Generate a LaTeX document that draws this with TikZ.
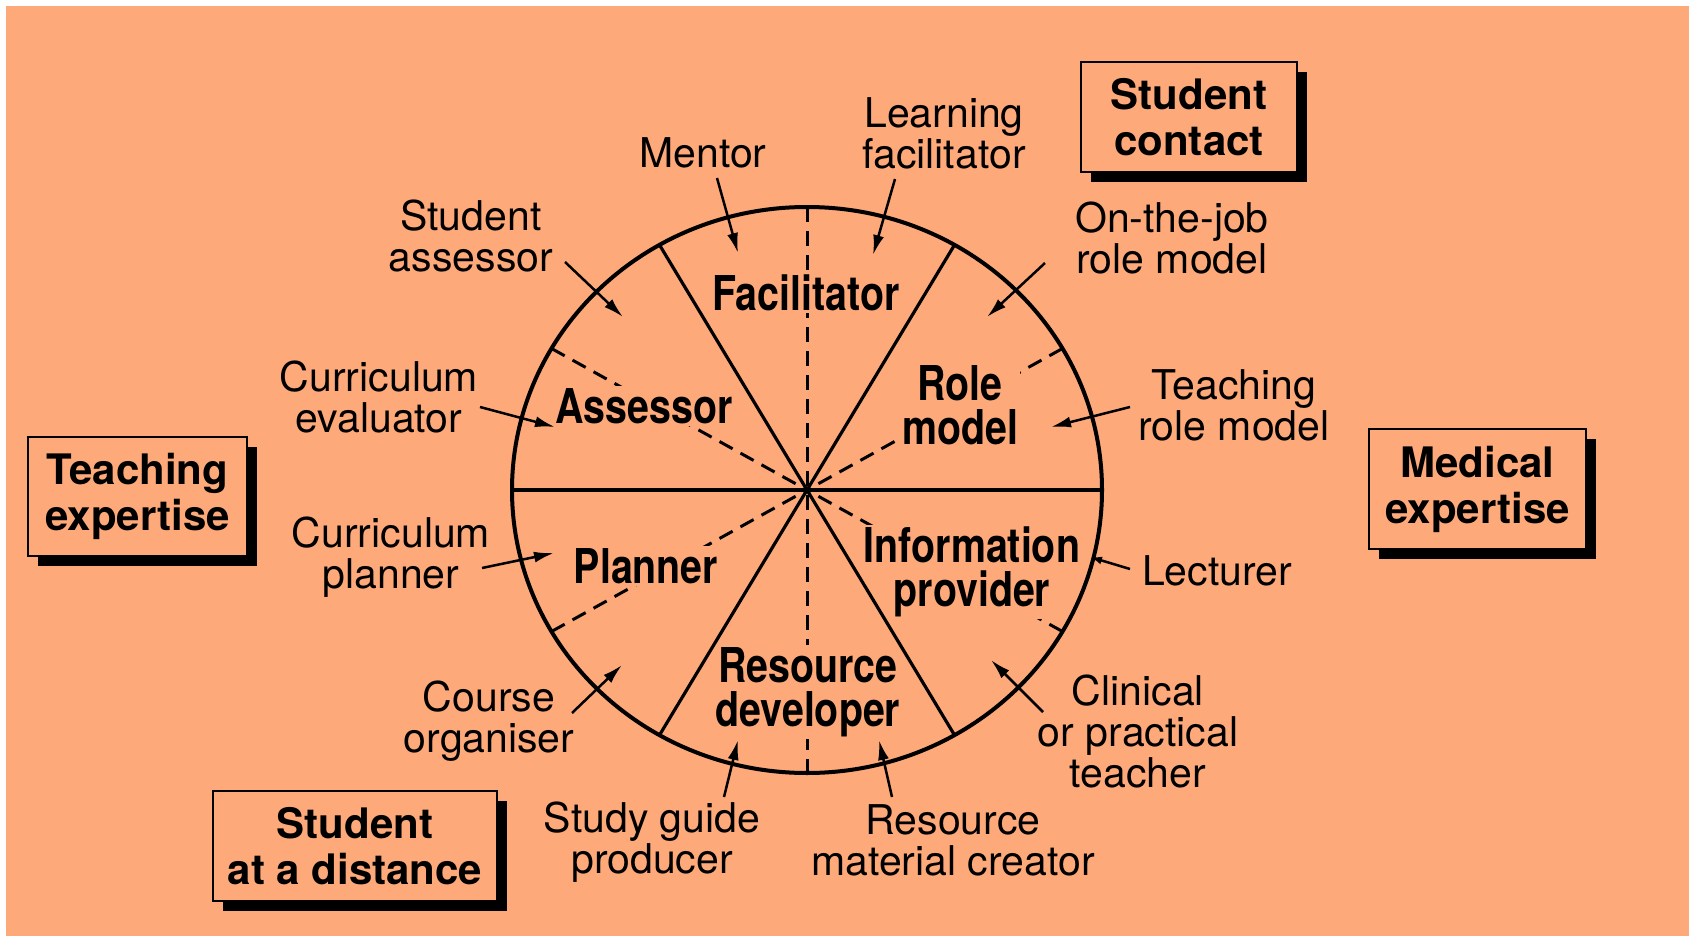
\documentclass[tikz,border=0pt]{standalone}
\usepackage{fontspec}
\setmainfont{TeX Gyre Heros}
\newfontfamily\condfont[FakeStretch=0.82]{TeX Gyre Heros}
\usetikzlibrary{arrows.meta,shadows,calc}
\definecolor{bg}{RGB}{253,169,122}
\begin{document}
\begin{tikzpicture}[x=1pt,y=-1pt,
  lbl/.style={font=\fontsize{41}{41}\selectfont, align=center, inner sep=0pt},
  role/.style={font=\condfont\bfseries\fontsize{48}{44}\selectfont, align=center, fill=bg, inner sep=2pt},
  box/.style={draw, line width=2pt, fill=bg, inner sep=0pt,
    font=\bfseries\fontsize{42}{46}\selectfont, align=center,
    drop shadow={shadow xshift=10pt,shadow yshift=-10pt,fill=black,opacity=1}},
  rimline/.style={line width=4pt},
  spoke/.style={line width=3.2pt},
  dashline/.style={line width=3pt, dash pattern=on 15pt off 9pt},
  arr/.style={line width=2.5pt, -{Latex[length=20pt,width=11pt]}}
]
\useasboundingbox (0,0) rectangle (1689,936);
\fill[white] (0,0) rectangle (1689,936);
\fill[bg] (6,6) rectangle (1689,936);

% wheel geometry
\coordinate (C) at (807,490);
\foreach \a in {0,30,60,90,120,150,180,210,240,270,300,330}
  \coordinate (r\a) at ($(C)+(\a:295pt and 283pt)$);

% dashed sub-dividers
\draw[dashline] (r90) -- (r270);
\draw[dashline] (r30) -- (C);
\draw[dashline] (r150) -- (C);
\draw[dashline] (r210) -- (C);
\draw[dashline] (r330) -- (C);

% role names
\node[role] (fac) at (806,293) {Facilitator};
\node[role] (ass) at (644,406) {Assessor};
\node[role] (rol) at (960,405) {Role\\model};
\node[role] (pla) at (646,566) {Planner};
\node[role] (inf) at (972,572) {Information\\provider};
\node[role] (res) at (808,692) {Resource\\developer};

% rim and spokes
\draw[rimline] (C) ellipse [x radius=295pt, y radius=283pt];
\draw[spoke] (r180) -- (r0);
\draw[spoke] (r120) -- (r300);
\draw[spoke] (r60) -- (r240);

% outer labels
\node[lbl] (men) at (703,153) {Mentor};
\node[lbl] (lf)  at (944,133) {Learning\\facilitator};
\node[lbl] (sa)  at (471,236) {Student\\assessor};
\node[lbl] (oj)  at (1172,238) {On-the-job\\role model};
\node[lbl] (ce)  at (379,397) {Curriculum\\evaluator};
\node[lbl] (trm) at (1234,405) {Teaching\\role model};
\node[lbl] (cp)  at (391,557) {Curriculum\\planner};
\node[lbl] (lec) at (1217,571) {Lecturer};
\node[lbl] (co)  at (489,721) {Course\\organiser};
\node[lbl] (cl)  at (1138,731) {Clinical\\or practical\\teacher};
\node[lbl] (sg)  at (652,842) {Study guide\\producer};
\node[lbl] (rm)  at (953,840) {Resource\\material creator};

% arrow ends
\coordinate (menA) at (717,178);  \coordinate (menB) at (738,253);
\coordinate (lfA)  at (895,179);  \coordinate (lfB)  at (873,255);
\coordinate (saA)  at (565,262);  \coordinate (saB)  at (623,317);
\coordinate (ojA)  at (1045,263); \coordinate (ojB)  at (987,317);
\coordinate (ceA)  at (480,407);  \coordinate (ceB)  at (555,427);
\coordinate (trmA) at (1130,407); \coordinate (trmB) at (1051,427);
\coordinate (cpA)  at (482,568);  \coordinate (cpB)  at (554,553);
\coordinate (lecA) at (1130,569); \coordinate (lecB) at (1090,557);
\coordinate (coA)  at (572,713);  \coordinate (coB)  at (622,665);
\coordinate (clA)  at (1043,712); \coordinate (clB)  at (991,660);
\coordinate (sgA)  at (724,797);  \coordinate (sgB)  at (738,740);
\coordinate (rmA)  at (892,797);  \coordinate (rmB)  at (879,740);

\draw[arr] (menA) -- (menB);
\draw[arr] (lfA) -- (lfB);
\draw[arr] (saA) -- (saB);
\draw[arr] (ojA) -- (ojB);
\draw[arr] (ceA) -- (ceB);
\draw[arr] (trmA) -- (trmB);
\draw[arr] (cpA) -- (cpB);
\draw[line width=2.5pt, -{Latex[length=12pt,width=8pt]}] (lecA) -- (lecB);
\draw[arr] (coA) -- (coB);
\draw[arr] (clA) -- (clB);
\draw[arr] (sgA) -- (sgB);
\draw[arr] (rmA) -- (rmB);

% category boxes
\node[box, minimum width=216pt, minimum height=110pt] (sc) at (1189,117) {Student\\contact};
\node[box, minimum width=219pt, minimum height=119pt] (te) at (137.5,496.5) {Teaching\\expertise};
\node[box, minimum width=217pt, minimum height=120pt] (me) at (1477.5,489) {Medical\\expertise};
\node[box, minimum width=284pt, minimum height=110pt] (sd) at (355,846) {Student\\at a distance};
\end{tikzpicture}
\end{document}
